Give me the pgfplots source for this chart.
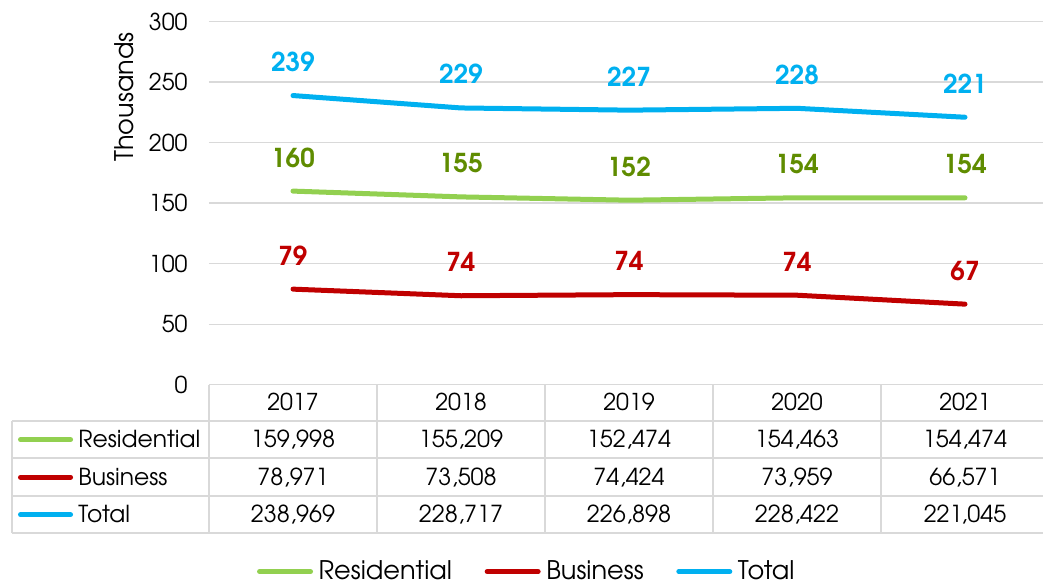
\documentclass[border=0pt]{standalone}
\usepackage{fontspec}
\setmainfont{TeX Gyre Adventor}
\usepackage{pgfplots}
\usepackage{pgfplotstable}
\pgfplotsset{compat=1.18}
\definecolor{resc}{HTML}{92D050}
\definecolor{busc}{HTML}{C00000}
\definecolor{totc}{HTML}{00B0F0}
\definecolor{resl}{RGB}{95,140,0}
\definecolor{gridc}{HTML}{D9D9D9}

\pgfplotstableread{
x year res bus tot
0 2017 159998 78971 238969
1 2018 155209 73508 228717
2 2019 152474 74424 226898
3 2020 154463 73959 228422
4 2021 154474 66571 221045
}\data

\begin{document}
\begin{tikzpicture}
\begin{axis}[
  scale only axis,
  width=420pt, height=181.5pt,
  xmin=-0.5, xmax=4.5, ymin=0, ymax=300,
  clip=false,
  axis line style={draw=none},
  major tick length=0pt,
  ytick={0,50,...,300},
  xtick={0,1,2,3,4},
  xticklabels from table={\data}{year},
  ymajorgrids,
  major grid style={gridc, line width=0.7pt},
  /pgf/number format/assume math mode=true,
  tick label style={font=\fontsize{11.6}{13}\selectfont, black},
  yticklabel style={anchor=east, xshift=-7.2pt},
  xticklabel style={anchor=base, yshift=-13.1pt},
  legend columns=3,
  legend style={at={(axis cs:-0.214,-154.5)}, anchor=west, draw=none, fill=none,
    inner sep=0pt, outer sep=0pt, font=\fontsize{12.8}{14}\selectfont,
    /tikz/every even column/.append style={column sep=13.5pt},
    nodes={inner sep=2.8pt}},
  legend image code/.code={\draw[#1, line width=2.5pt, line cap=round] (1.25pt,0pt) -- (26.75pt,0pt);},
  every axis plot/.append style={line width=2.5pt, line join=round, line cap=round},
]
% lines
\addplot[resc, mark=none, nodes near coords={\pgfmathprintnumber[fixed,precision=0]{\pgfplotspointmeta}}, point meta=y,
  every node near coord/.append style={resl, font=\fontsize{13}{15}\selectfont\bfseries, anchor=base, yshift=12.0pt}]
  table[x=x, y expr=\thisrow{res}/1000] {\data};
\addlegendentry{Residential}
\addplot[busc, mark=none, nodes near coords={\pgfmathprintnumber[fixed,precision=0]{\pgfplotspointmeta}}, point meta=y,
  every node near coord/.append style={busc, font=\fontsize{13}{15}\selectfont\bfseries, anchor=base, yshift=12.0pt}]
  table[x=x, y expr=\thisrow{bus}/1000] {\data};
\addlegendentry{Business}
\addplot[totc, mark=none, nodes near coords={\pgfmathprintnumber[fixed,precision=0]{\pgfplotspointmeta}}, point meta=y,
  every node near coord/.append style={totc, font=\fontsize{13}{15}\selectfont\bfseries, anchor=base, yshift=12.0pt}]
  table[x=x, y expr=\thisrow{tot}/1000] {\data};
\addlegendentry{Total}

% data table values
\addplot[draw=none, mark=none, forget plot, point meta=explicit,
  nodes near coords={\pgfmathprintnumber[fixed,precision=0,1000 sep={,}]{\pgfplotspointmeta}},
  every node near coord/.append style={black, font=\fontsize{11.7}{13}\selectfont, anchor=base, yshift=-4pt}]
  table[x=x, y expr=-45.4, meta=res] {\data};
\addplot[draw=none, mark=none, forget plot, point meta=explicit,
  nodes near coords={\pgfmathprintnumber[fixed,precision=0,1000 sep={,}]{\pgfplotspointmeta}},
  every node near coord/.append style={black, font=\fontsize{11.7}{13}\selectfont, anchor=base, yshift=-4pt}]
  table[x=x, y expr=-76.4, meta=bus] {\data};
\addplot[draw=none, mark=none, forget plot, point meta=explicit,
  nodes near coords={\pgfmathprintnumber[fixed,precision=0,1000 sep={,}]{\pgfplotspointmeta}},
  every node near coord/.append style={black, font=\fontsize{11.7}{13}\selectfont, anchor=base, yshift=-4pt}]
  table[x=x, y expr=-107.4, meta=tot] {\data};

% table grid
\draw[gridc, line width=1pt] (axis cs:-1.673,-30.0) -- (axis cs:4.5,-30.0);
\draw[gridc, line width=1pt] (axis cs:-1.673,-60.8) -- (axis cs:4.5,-60.8);
\draw[gridc, line width=1pt] (axis cs:-1.673,-92.0) -- (axis cs:4.5,-92.0);
\draw[gridc, line width=1pt] (axis cs:-1.673,-122.8) -- (axis cs:4.5,-122.8);
\draw[gridc, line width=1pt] (axis cs:-1.673,-30.0) -- (axis cs:-1.673,-122.8);
\draw[gridc, line width=1pt] (axis cs:-0.5,0) -- (axis cs:-0.5,-122.8);
\draw[gridc, line width=1pt] (axis cs:0.5,0) -- (axis cs:0.5,-122.8);
\draw[gridc, line width=1pt] (axis cs:1.5,0) -- (axis cs:1.5,-122.8);
\draw[gridc, line width=1pt] (axis cs:2.5,0) -- (axis cs:2.5,-122.8);
\draw[gridc, line width=1pt] (axis cs:3.5,0) -- (axis cs:3.5,-122.8);
% row headers
\draw[resc, line width=2.5pt, line cap=round] (axis cs:-1.622,-45.4) -- (axis cs:-1.324,-45.4);
\draw[busc, line width=2.5pt, line cap=round] (axis cs:-1.622,-76.4) -- (axis cs:-1.324,-76.4);
\draw[totc, line width=2.5pt, line cap=round] (axis cs:-1.622,-107.4) -- (axis cs:-1.324,-107.4);
\node[font=\fontsize{11.7}{13}\selectfont, anchor=base west, inner sep=0pt, yshift=-4pt] at (axis cs:-1.280,-45.4) {Residential};
\node[font=\fontsize{11.7}{13}\selectfont, anchor=base west, inner sep=0pt, yshift=-4pt] at (axis cs:-1.280,-76.4) {Business};
\node[font=\fontsize{11.7}{13}\selectfont, anchor=base west, inner sep=0pt, yshift=-4pt] at (axis cs:-1.280,-107.4) {Total};
% axis title
\node[font=\fontsize{12.8}{14}\selectfont, rotate=90] at (axis cs:-1.006,237.8) {Thousands};
\end{axis}
\pgfresetboundingbox
\path (-104.5pt,-99.15pt) rectangle (417pt,192.35pt);
\end{tikzpicture}
\end{document}
